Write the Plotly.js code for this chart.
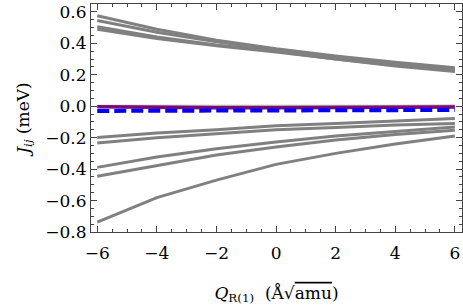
<!DOCTYPE html>
<html>
<head>
<meta charset="utf-8">
<script src="https://cdn.plot.ly/plotly-3.0.1.min.js"></script>
<style>html,body{margin:0;padding:0;background:#fff;}#chart{width:463px;height:306px;}</style>
</head>
<body>
<div id="chart"></div>
<script>
const xValues = [-6, -4, -2, 0, 2, 4, 6];

// upper group (positive couplings)
const up1 = [0.575, 0.49, 0.42, 0.365, 0.32, 0.28, 0.245];
const up2 = [0.545, 0.47, 0.41, 0.36, 0.31, 0.27, 0.235];
const up3 = [0.505, 0.44, 0.39, 0.35, 0.30, 0.26, 0.225];
const up4 = [0.49, 0.43, 0.385, 0.345, 0.30, 0.255, 0.22];

// lower group (negative couplings)
const lo1 = [-0.199, -0.17, -0.15, -0.125, -0.11, -0.095, -0.078];
const lo2 = [-0.234, -0.20, -0.175, -0.15, -0.135, -0.12, -0.11];
const lo3 = [-0.389, -0.323, -0.27, -0.227, -0.19, -0.16, -0.132];
const lo4 = [-0.446, -0.376, -0.31, -0.259, -0.215, -0.18, -0.153];
const lo5 = [-0.737, -0.581, -0.47, -0.37, -0.30, -0.24, -0.189];

// near-zero lines
const nearZeroGray = [0.004, 0.003, 0.003, 0.003, 0.004, 0.005, 0.006];
const purpleLine = [-0.004, -0.008, -0.01, -0.01, -0.009, -0.007, -0.005];
const blueDashed = [-0.03, -0.029, -0.028, -0.027, -0.026, -0.025, -0.024];

const xTickVals = [-6, -4, -2, 0, 2, 4, 6];
const xTickText = ['−6', '−4', '−2', '0', '2', '4', '6'];
const yTickVals = [-0.8, -0.6, -0.4, -0.2, 0, 0.2, 0.4, 0.6];
const yTickText = ['−0.8', '−0.6', '−0.4', '−0.2', '0.0', '0.2', '0.4', '0.6'];

const grayGroups = [up1, up2, up3, up4, lo1, lo2, lo3, lo4, lo5];

const traces = [];
grayGroups.forEach(ys => traces.push({
  x: xValues, y: ys, type: 'scatter', mode: 'lines',
  line: {color: '#808080', width: 3}
}));
traces.push({x: xValues, y: nearZeroGray, type: 'scatter', mode: 'lines',
  line: {color: '#b0b0b0', width: 1.5}});
traces.push({x: xValues, y: purpleLine, type: 'scatter', mode: 'lines',
  line: {color: '#7a0a7a', width: 3.5}});
traces.push({x: xValues, y: blueDashed, type: 'scatter', mode: 'lines',
  line: {color: '#0000ff', width: 4, dash: '12px,5px'}});

const font = {family: 'DejaVu Serif', size: 17, color: '#000'};

const axisCommon = {
  showgrid: false, zeroline: false, showline: true, linecolor: '#444', linewidth: 1,
  mirror: 'allticks', ticks: 'inside', ticklen: 6, tickcolor: '#444', tickwidth: 1,
  tickfont: font
};

const layout = {
  width: 463, height: 306,
  margin: {l: 91, r: 1, t: 4, b: 74},
  paper_bgcolor: '#fff', plot_bgcolor: '#fff',
  showlegend: false,
  font: font,
  xaxis: Object.assign({}, axisCommon, {
    range: [-6.21, 6.24], tickvals: xTickVals, ticktext: xTickText,
    ticklabelstandoff: 6,
    minor: {dtick: 0.5, tick0: 0, ticks: 'inside', ticklen: 3, tickcolor: '#444'},
    title: {text: '<i>Q</i><sub>R(1)</sub>  (Å√<span style="text-decoration:overline">amu</span>)', font: font, standoff: 24}
  }),
  yaxis: Object.assign({}, axisCommon, {
    range: [-0.8, 0.65], tickvals: yTickVals, ticktext: yTickText,
    minor: {dtick: 0.05, tick0: 0, ticks: 'inside', ticklen: 3, tickcolor: '#444'},
    title: {text: '<i>J</i><sub><i>ij</i></sub> (meV)', font: font, standoff: 11}
  })
};

Plotly.newPlot('chart', traces, layout, {staticPlot: true, displayModeBar: false});
</script>
</body>
</html>
